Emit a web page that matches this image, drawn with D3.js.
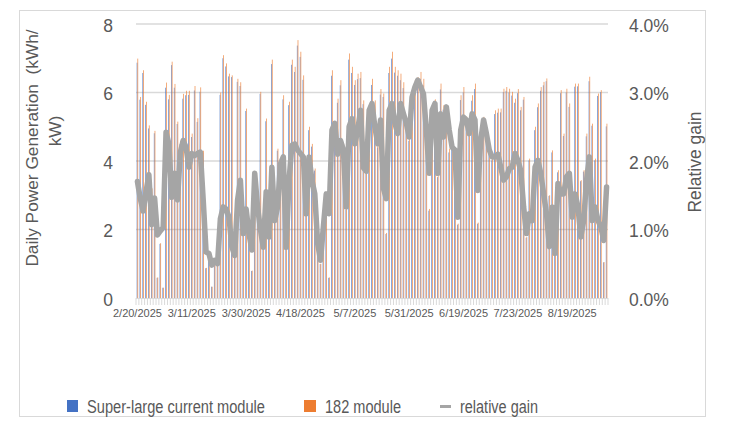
<!DOCTYPE html>
<html>
<head>
<meta charset="utf-8">
<script src="https://cdn.jsdelivr.net/npm/d3@7"></script>
<style>
  html, body { margin: 0; padding: 0; background: #fff; }
  svg { display: block; font-family: "Liberation Sans", Arial, Helvetica, sans-serif; }
</style>
</head>
<body>
<svg id="chart" width="733" height="433"></svg>
<script>
// ---- Data ----
const seriesNames = ["Super-large current module", "182 module", "relative gain"];
const xTickLabels = ["2/20/2025","3/11/2025","3/30/2025","4/18/2025","5/7/2025","5/31/2025","6/19/2025","7/23/2025","8/19/2025"];
const labelStep = 19; // one date label every 19 categories
const leftTicks = [0, 2, 4, 6, 8];
const rightTicks = [0, 0.01, 0.02, 0.03, 0.04];

// Daily power generation, kWh/kW
const superLarge = [
6.87,5.79,6.57,5.64,4.95,3.17,4.81,0.59,1.58,0.30,
6.14,5.80,6.80,6.14,5.08,4.49,5.82,5.92,5.93,4.70,
6.06,5.14,6.02,4.24,0.87,1.29,0.33,1.09,1.04,5.93,
7.00,6.76,6.47,6.45,1.29,6.31,6.19,1.88,5.46,1.98,
0.79,3.53,2.66,5.96,1.49,5.16,1.78,6.83,2.27,4.30,
3.82,5.80,1.49,5.63,6.81,6.60,7.37,7.04,6.37,2.47,
4.90,4.42,3.72,2.18,0.99,2.47,2.95,0.59,6.49,4.87,
5.70,6.21,4.40,2.57,6.96,6.57,6.22,6.39,6.42,5.66,
3.63,5.35,6.22,5.63,4.40,5.94,5.87,1.87,6.57,6.99,
6.58,6.49,6.36,6.13,5.16,4.59,5.73,6.16,6.25,6.40,
6.21,4.88,2.55,5.35,5.64,3.53,6.09,5.50,5.44,4.25,
4.40,4.21,2.14,5.78,6.00,5.16,4.78,5.76,6.10,2.17,
4.49,5.15,4.69,4.21,4.02,5.37,5.41,5.42,6.01,6.05,
6.00,5.91,5.70,5.98,5.48,5.79,1.76,4.02,2.27,4.90,
5.57,6.05,6.21,6.33,2.98,4.25,1.29,3.67,5.98,4.73,
6.00,5.58,3.16,6.17,6.18,3.41,3.69,4.72,6.33,5.03,
4.02,5.90,6.01,1.04,5.01];

const module182 = [
6.99,5.87,6.65,5.73,5.04,3.20,4.88,0.60,1.60,0.30,
6.29,5.93,6.90,6.25,5.15,4.59,5.96,6.05,6.05,4.80,
6.19,5.25,6.15,4.30,0.88,1.30,0.33,1.10,1.05,6.00,
7.09,6.85,6.55,6.50,1.30,6.40,6.30,1.90,5.53,2.00,
0.80,3.60,2.70,6.02,1.50,5.24,1.80,6.96,2.30,4.36,
3.90,5.92,1.50,5.73,6.96,6.75,7.53,7.19,6.50,2.50,
5.00,4.50,3.78,2.20,1.00,2.50,3.00,0.60,6.65,5.00,
5.82,6.36,4.50,2.60,7.14,6.75,6.36,6.55,6.60,5.77,
3.70,5.50,6.40,5.77,4.50,6.10,5.97,1.90,6.75,7.19,
6.75,6.65,6.55,6.30,5.29,4.70,5.90,6.36,6.45,6.60,
6.40,5.00,2.60,5.50,5.80,3.60,6.26,5.63,5.60,4.36,
4.50,4.30,2.17,5.92,6.16,5.30,4.90,5.92,6.26,2.20,
4.60,5.29,4.80,4.30,4.10,5.48,5.53,5.53,6.11,6.16,
6.11,6.02,5.82,6.10,5.58,5.87,1.78,4.07,2.30,5.00,
5.68,6.16,6.31,6.41,3.00,4.31,1.30,3.73,6.07,4.80,
6.11,5.68,3.20,6.26,6.26,3.44,3.73,4.80,6.46,5.09,
4.07,5.97,6.07,1.05,5.09];

// Relative gain, percent
const relativeGain = [
1.70,1.45,1.27,1.55,1.80,1.07,1.46,0.92,0.98,1.03,
2.42,2.25,1.47,1.82,1.43,2.13,2.30,2.20,1.91,2.11,
2.08,2.11,2.13,1.43,0.67,0.65,0.48,0.55,0.50,1.16,
1.33,1.30,1.18,0.75,0.62,1.43,1.72,0.94,1.30,0.94,
0.70,1.82,1.33,1.00,0.74,1.55,0.89,1.91,1.13,1.33,
1.96,2.06,0.74,1.72,2.23,2.25,2.16,2.11,2.06,1.23,
2.06,1.72,1.52,0.80,0.55,1.04,1.52,1.23,2.45,2.55,
2.10,2.30,2.16,1.33,2.50,2.62,2.25,2.45,2.74,1.90,
1.85,2.74,2.84,2.50,2.25,2.60,1.60,1.45,2.74,2.84,
2.55,2.40,2.84,2.69,2.55,2.35,2.93,3.08,3.18,3.08,
2.98,2.45,1.82,2.74,2.84,1.82,2.69,2.35,2.79,2.45,
2.20,2.16,1.18,2.45,2.64,2.60,2.40,2.69,2.60,1.57,
2.30,2.60,2.40,2.16,2.06,2.06,2.10,1.91,1.72,1.77,
1.89,1.91,2.11,2.01,1.86,1.33,0.94,1.23,1.13,1.91,
2.01,1.82,1.52,1.23,0.75,1.33,0.65,1.67,1.52,1.52,
1.77,1.82,1.18,1.52,1.33,0.89,1.13,1.72,2.06,1.13,
1.33,1.13,1.04,0.84,1.62];

// ---- Chart ----
const svg = d3.select("#chart");
const W = 733, H = 433;
const plot = { left: 136, right: 608, top: 24, bottom: 298 };
const textColor = "#595959";
const gridColor = "#d9d9d9";
const colors = { s: "#4472C4", o: "#ED7D31", g: "#A5A5A5" };

const idx = d3.range(superLarge.length);

svg.append("rect").attr("width", W).attr("height", H).attr("fill", "#fff");
svg.append("rect")
  .attr("x", 19.5).attr("y", 10.5).attr("width", 686).attr("height", 406)
  .attr("fill", "none").attr("stroke", gridColor).attr("stroke-width", 1);

const x = d3.scaleBand().domain(idx).range([plot.left, plot.right]).paddingInner(0).paddingOuter(0);
const xs = d3.scaleBand().domain(["s", "o"]).range([0, x.bandwidth()]).paddingInner(0).paddingOuter(0.95);
const yL = d3.scaleLinear().domain([0, 8]).range([plot.bottom, plot.top]);
const yR = d3.scaleLinear().domain([0, 0.04]).range([plot.bottom, plot.top]);

// gridlines
svg.append("g").selectAll("line").data(leftTicks.filter(d => d > 0)).join("line")
  .attr("x1", plot.left).attr("x2", plot.right)
  .attr("y1", d => yL(d)).attr("y2", d => yL(d))
  .attr("stroke", gridColor).attr("stroke-width", 1.4);

// category tick marks (between categories)
const tickPos = idx.map(i => x(i)).concat([plot.right]);
svg.append("g").selectAll("line").data(tickPos).join("line")
  .attr("x1", d => d).attr("x2", d => d)
  .attr("y1", plot.bottom).attr("y2", plot.bottom + 7)
  .attr("stroke", gridColor).attr("stroke-width", 1);
svg.append("line").attr("x1", plot.left).attr("x2", plot.right)
  .attr("y1", plot.bottom + 0.5).attr("y2", plot.bottom + 0.5)
  .attr("stroke", gridColor).attr("stroke-width", 1);

// bars
const barG = svg.append("g").attr("opacity", 0.85);
barG.selectAll("rect.s").data(idx).join("rect").attr("class", "s")
  .attr("x", i => x(i) + xs("s")).attr("width", xs.bandwidth())
  .attr("y", i => yL(superLarge[i])).attr("height", i => yL(0) - yL(superLarge[i]))
  .attr("fill", colors.s);
barG.selectAll("rect.o").data(idx).join("rect").attr("class", "o")
  .attr("x", i => x(i) + xs("o")).attr("width", xs.bandwidth())
  .attr("y", i => yL(module182[i])).attr("height", i => yL(0) - yL(module182[i]))
  .attr("fill", colors.o);

// line
const line = d3.line()
  .x(i => x(i) + x.bandwidth() / 2)
  .y(i => yR(relativeGain[i] / 100));
svg.append("path").datum(idx).attr("d", line)
  .attr("fill", "none").attr("stroke", colors.g).attr("stroke-width", 5.5)
  .attr("stroke-linejoin", "round").attr("stroke-linecap", "round");

// left axis
const axL = svg.append("g").attr("transform", `translate(${plot.left - 23},0)`)
  .call(d3.axisLeft(yL).tickValues(leftTicks).tickSize(0).tickPadding(0).tickFormat(d3.format("d")));
axL.select(".domain").remove();
axL.selectAll("text").attr("fill", textColor).attr("font-size", "17.5px").attr("dy", "0.4em");

// right axis
const axR = svg.append("g").attr("transform", `translate(629,0)`)
  .call(d3.axisRight(yR).tickValues(rightTicks).tickSize(0).tickPadding(0).tickFormat(d3.format(".1%")));
axR.select(".domain").remove();
axR.selectAll("text").attr("fill", textColor).attr("font-size", "17.5px").attr("dy", "0.4em");

// bottom axis labels
const labelIdx = xTickLabels.map((_, k) => k * labelStep);
const axB = svg.append("g").attr("transform", `translate(0,${plot.bottom})`)
  .call(d3.axisBottom(x).tickValues(labelIdx).tickSize(0).tickPadding(11)
    .tickFormat(i => xTickLabels[i / labelStep]));
axB.select(".domain").remove();
axB.selectAll("text").attr("fill", textColor).attr("font-size", "11px");

// axis titles
svg.append("text").attr("fill", textColor).attr("font-size", "17.3px").attr("text-anchor", "middle")
  .attr("transform", "translate(38,148) rotate(-90)").text("Daily Power Generation\u00A0\u00A0(kWh/");
svg.append("text").attr("fill", textColor).attr("font-size", "17.3px").attr("text-anchor", "middle")
  .attr("transform", "translate(61,131) rotate(-90)").text("kW)");
svg.append("text").attr("fill", textColor).attr("font-size", "17.5px").attr("text-anchor", "middle")
  .attr("transform", "translate(701,162) rotate(-90)").text("Relative gain");

// legend
const legendY = 413;
const leg = svg.append("g");
leg.append("rect").attr("x", 67).attr("y", 400).attr("width", 11).attr("height", 12).attr("fill", colors.s);
leg.append("text").attr("x", 87).attr("y", legendY).attr("fill", textColor).attr("font-size", "17.5px")
  .attr("textLength", 178).attr("lengthAdjust", "spacingAndGlyphs").text(seriesNames[0]);
leg.append("rect").attr("x", 304).attr("y", 400).attr("width", 12).attr("height", 12).attr("fill", colors.o);
leg.append("text").attr("x", 325).attr("y", legendY).attr("fill", textColor).attr("font-size", "17.5px")
  .attr("textLength", 76).attr("lengthAdjust", "spacingAndGlyphs").text(seriesNames[1]);
leg.append("line").attr("x1", 440).attr("x2", 451).attr("y1", 406.5).attr("y2", 406.5)
  .attr("stroke", colors.g).attr("stroke-width", 3);
leg.append("text").attr("x", 460).attr("y", legendY).attr("fill", textColor).attr("font-size", "17.5px")
  .attr("textLength", 78).attr("lengthAdjust", "spacingAndGlyphs").text(seriesNames[2]);
</script>
</body>
</html>
